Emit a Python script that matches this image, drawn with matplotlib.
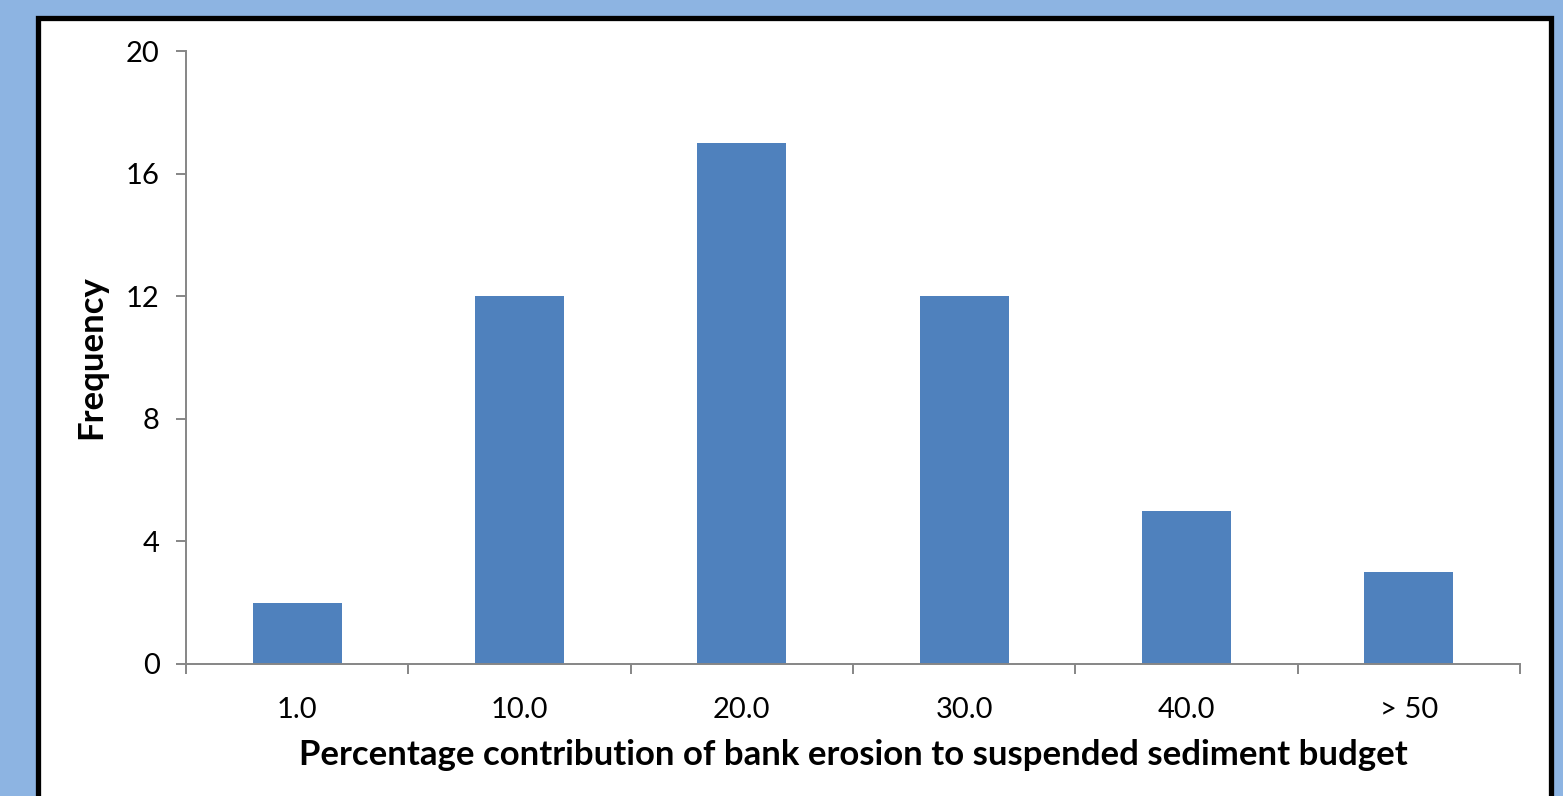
import matplotlib
matplotlib.use("Agg")
import matplotlib.pyplot as plt
from matplotlib.patches import Rectangle
import numpy as np

categories = ["1.0", "10.0", "20.0", "30.0", "40.0", "> 50"]
frequency = [2, 12, 17, 12, 5, 3]
y_ticks = [0, 4, 8, 12, 16, 20]

bar_color = "#4F81BD"
axis_color = "#868686"
page_color = "#8DB4E2"

plt.rcParams["font.family"] = ["Lato", "DejaVu Sans"]

fig = plt.figure(figsize=(15.63, 7.96), dpi=100)
fig.patch.set_facecolor(page_color)

# white panel with heavy black frame, kept beneath the axes
panel = Rectangle((37.5 / 1563, -0.05), (1550.5 - 37.5) / 1563, 1 - 17.5 / 796 + 0.05,
                  transform=fig.transFigure, facecolor="white", edgecolor="black",
                  linewidth=3.8, zorder=-10)
fig.add_artist(panel)

ax = fig.add_axes([186 / 1563, 1 - 664 / 796, (1520 - 186) / 1563, (664 - 51) / 796])
ax.set_zorder(5)
ax.set_facecolor("none")

x = np.arange(len(categories))
ax.bar(x, frequency, width=0.4, color=bar_color, zorder=2)

ax.set_xlim(-0.5, len(categories) - 0.5)
ax.set_ylim(0, 20)
ax.set_yticks(y_ticks)
ax.set_yticklabels([str(v) for v in y_ticks])
ax.set_xticks(x)
ax.set_xticklabels(categories)
ax.set_xticks(np.arange(len(categories) + 1) - 0.5, minor=True)

for side in ["top", "right"]:
    ax.spines[side].set_visible(False)
for side in ["left", "bottom"]:
    ax.spines[side].set_color(axis_color)
    ax.spines[side].set_linewidth(1.4)

ax.tick_params(axis="x", which="major", length=0, pad=24, labelsize=21)
ax.tick_params(axis="x", which="minor", length=7, width=1.4, color=axis_color, direction="out")
ax.tick_params(axis="y", length=7, width=1.4, color=axis_color, direction="out", pad=12, labelsize=21)

ax.set_xlabel("Percentage contribution of bank erosion to suspended sediment budget",
              fontsize=25, fontweight="bold", labelpad=11)
ax.set_ylabel("Frequency", fontsize=25, fontweight="bold", labelpad=13)

fig.savefig("out.png", dpi=100, facecolor=page_color)
